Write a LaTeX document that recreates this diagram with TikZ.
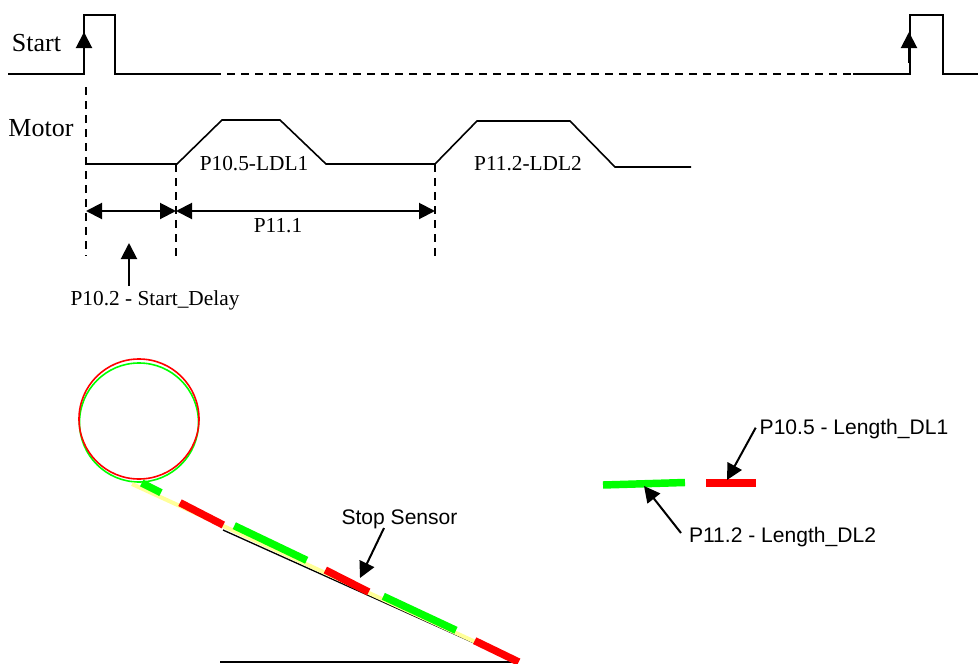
\documentclass[tikz,border=0pt]{standalone}
\usepackage{fontspec}
\setmainfont{Liberation Serif}
\setsansfont{Liberation Sans}
\usetikzlibrary{arrows.meta,positioning,calc}
\begin{document}
\begin{tikzpicture}[
    x=0.75pt,y=-0.75pt,
    signal/.style={line width=1.2pt,line join=miter},
    guide/.style={line width=0.9pt,dash pattern=on 6.2pt off 4.3pt},
    pointer/.style={line width=1.5pt,-{Triangle[length=12pt,width=12pt]}},
    span/.style={line width=1.5pt,{Triangle[length=12pt,width=12pt]}-{Triangle[length=12pt,width=12pt]}},
    timelabel/.style={font=\fontsize{16pt}{18pt}\selectfont,inner sep=0pt},
    sidelabel/.style={font=\fontsize{19.5pt}{22pt}\selectfont,inner sep=0pt},
    lenlabel/.style={font=\sffamily\fontsize{15.8pt}{18pt}\selectfont,inner sep=0pt},
    strip/.style={line width=5.6pt},
  ]
  \useasboundingbox (0,0) rectangle (979,664);
  \definecolor{stripgreen}{RGB}{0,255,0}
  \definecolor{stripred}{RGB}{255,0,0}
  \definecolor{stripyellow}{RGB}{255,255,153}

  %% Start signal
  \node[sidelabel] (startlbl) at (36.5,43) {Start};
  \coordinate (sa) at (8,74);
  \coordinate (sb) at (84,74);
  \coordinate (sc) at (84,15);
  \coordinate (sd) at (115,15);
  \coordinate (se) at (115,74);
  \coordinate (sf) at (213,74);
  \coordinate (sg) at (853,74);
  \coordinate (sh) at (910,74);
  \coordinate (si) at (910,15);
  \coordinate (sj) at (943,15);
  \coordinate (sk) at (943,74);
  \coordinate (sl) at (978,74);
  \draw[signal] (sa) -- (sb) -- (sc) -- (sd) -- (se) -- (sf);
  \draw[guide] (sf) -- (sg);
  \draw[signal] (sg) -- (sh) -- (si) -- (sj) -- (sk) -- (sl);

  %% Trigger arrows
  \coordinate (ta) at (84,63);
  \coordinate (tb) at (84,32);
  \coordinate (tc) at (909,63);
  \coordinate (td) at (909,32);
  \draw[pointer] (ta) -- (tb);
  \draw[pointer] (tc) -- (td);

  %% Motor profile
  \node[sidelabel] (motorlbl) at (41,128) {Motor};
  \coordinate (ma) at (86,164);
  \coordinate (mb) at (177,164);
  \coordinate (mc) at (222,120);
  \coordinate (md) at (280,120);
  \coordinate (me) at (326,164);
  \coordinate (mf) at (435,164);
  \coordinate (mg) at (477,121);
  \coordinate (mh) at (570,121);
  \coordinate (mi) at (615,167);
  \coordinate (mj) at (691,167);
  \draw[signal] (ma) -- (mb) -- (mc) -- (md) -- (me) -- (mf) -- (mg) -- (mh) -- (mi) -- (mj);
  \node[timelabel] (ldla) at (254,164) {P10.5-LDL1};
  \node[timelabel] (ldlb) at (528,164) {P11.2-LDL2};

  %% Guides and spans
  \coordinate (ga) at (86,87);
  \coordinate (gb) at (86,256);
  \coordinate (gc) at (176,164);
  \coordinate (gd) at (176,256);
  \coordinate (ge) at (435,164);
  \coordinate (gf) at (435,256);
  \draw[guide] (ga) -- (gb);
  \draw[guide] (gc) -- (gd);
  \draw[guide] (ge) -- (gf);
  \coordinate (da) at (86,211);
  \coordinate (db) at (176,211);
  \coordinate (dc) at (435,211);
  \draw[span] (da) -- (db);
  \draw[span] (db) -- (dc);
  \node[timelabel] (spanlbl) at (278,226) {P11.1};
  \node[timelabel] (delaylbl) at (155,300) {P10.2 - Start\_Delay};
  \coordinate (dd) at (129,286);
  \coordinate (de) at (129,243);
  \draw[pointer] (dd) -- (de);

  %% Belt loop
  \draw[stripgreen,line width=1.2pt] (139,422.5) circle [radius=59.5];
  \draw[stripred,line width=1.2pt] (139,419) circle [radius=60];

  %% Belt incline
  \coordinate (ya) at (132,484);
  \coordinate (yb) at (506,656);
  \coordinate (ka) at (223,530);
  \coordinate (kb) at (512,660);
  \coordinate (ba) at (220,662);
  \coordinate (bb) at (518,662);
  \draw[black,line width=1pt] (ka) -- (kb);
  \draw[stripyellow,line width=3pt] (ya) -- (yb);
  \draw[black,line width=1.3pt] (ba) -- (bb);
  \foreach \col/\xa/\ya/\xb/\yb in {
      stripgreen/141.7/483/161/492.7,
      stripred/180/502.7/223.3/525,
      stripgreen/234.3/525.7/306.7/560.3,
      stripred/325.3/570/368.7/592,
      stripgreen/383.3/596.3/456/630.3,
      stripred/474.7/640.7/518.7/662}{
    \draw[strip,\col] (\xa,\ya) -- (\xb,\yb);
  }
  \node[lenlabel] (stoplbl) at (399.5,519.5) {Stop Sensor};
  \coordinate (pa) at (384,528);
  \coordinate (pb) at (360,578);
  \draw[pointer] (pa) -- (pb);

  %% Length legend
  \coordinate (la) at (603,485);
  \coordinate (lb) at (685,482.5);
  \coordinate (lc) at (706,483);
  \coordinate (ld) at (756,483);
  \draw[strip,stripgreen] (la) -- (lb);
  \draw[strip,stripred] (lc) -- (ld);
  \node[lenlabel] (lenalbl) at (854,429.5) {P10.5 - Length\_DL1};
  \node[lenlabel] (lenblbl) at (782.5,537) {P11.2 - Length\_DL2};
  \coordinate (qa) at (755.7,427.7);
  \coordinate (qb) at (727,480);
  \coordinate (qc) at (681,533);
  \coordinate (qd) at (644,486);
  \draw[pointer] (qa) -- (qb);
  \draw[pointer] (qc) -- (qd);
\end{tikzpicture}
\end{document}
